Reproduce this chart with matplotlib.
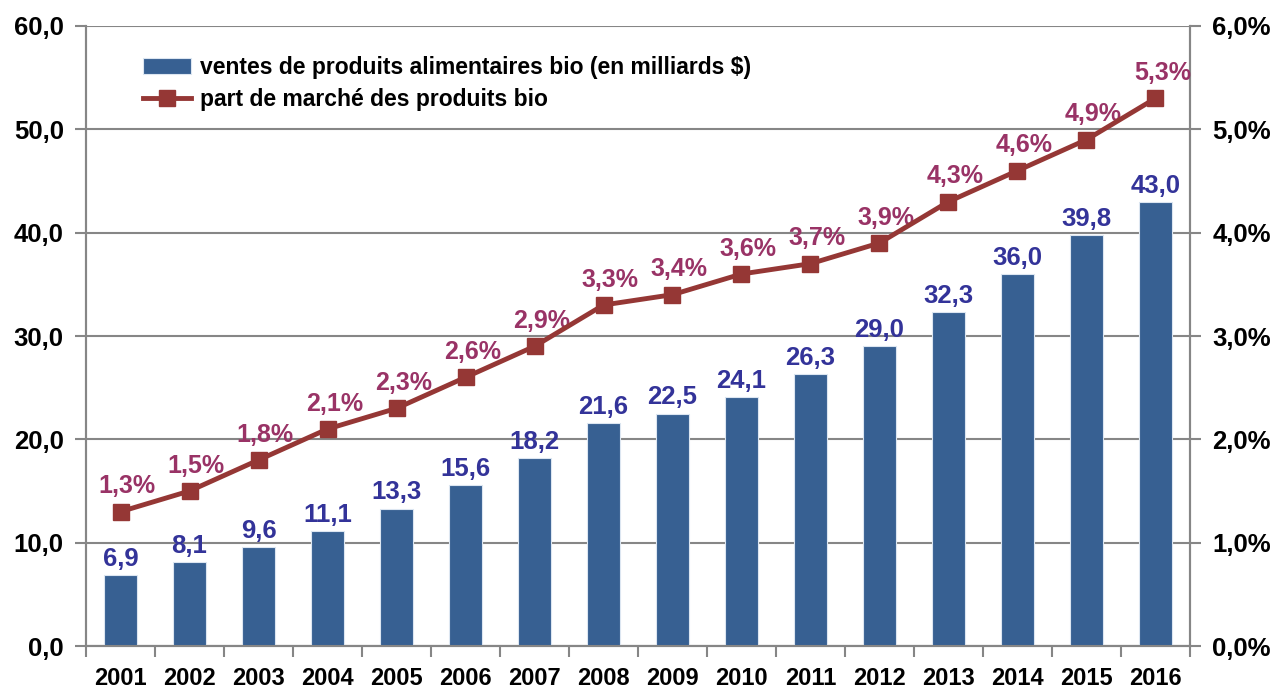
import matplotlib.pyplot as plt
import numpy as np

years = ["2001", "2002", "2003", "2004", "2005", "2006", "2007", "2008",
         "2009", "2010", "2011", "2012", "2013", "2014", "2015", "2016"]
ventes = [6.9, 8.1, 9.6, 11.1, 13.3, 15.6, 18.2, 21.6,
          22.5, 24.1, 26.3, 29.0, 32.3, 36.0, 39.8, 43.0]
part = [1.3, 1.5, 1.8, 2.1, 2.3, 2.6, 2.9, 3.3,
        3.4, 3.6, 3.7, 3.9, 4.3, 4.6, 4.9, 5.3]

plt.rcParams['font.family'] = ['Liberation Sans', 'DejaVu Sans']
plt.rcParams['font.weight'] = 'bold'

fig = plt.figure(figsize=(12.76, 6.93), dpi=100)
ax = fig.add_axes([0.0674, 0.0678, 0.8652, 0.8947])
ax2 = ax.twinx()

x = np.arange(len(years))
bars = ax.bar(x, ventes, width=0.49, color="#376092", edgecolor="#dce6f1",
              linewidth=0.8, zorder=3, label="ventes de produits alimentaires bio (en milliards $)")
for xi, v in zip(x, ventes):
    ax.text(xi, v + 0.4, f"{v:.1f}".replace(".", ","), ha="center", va="bottom",
            color="#333399", fontsize=18.5, fontweight="bold")

line, = ax2.plot(x, part, color="#953735", linewidth=3.5, marker="s",
                 markersize=11, zorder=4, label="part de marché des produits bio")
for xi, p in zip(x, part):
    ax2.text(xi + 0.1, p + 0.13, f"{p:.1f}%".replace(".", ","), ha="center", va="bottom",
             color="#993366", fontsize=18, fontweight="bold")

ax.set_xlim(-0.5, len(years) - 0.5)
ax.set_ylim(0, 60)
ax2.set_ylim(0, 6)
ax.set_yticks(np.arange(0, 61, 10))
ax.set_yticklabels([f"{t:.1f}".replace(".", ",") for t in np.arange(0, 61, 10)])
ax2.set_yticks(np.arange(0, 6.1, 1))
ax2.set_yticklabels([f"{t:.1f}%".replace(".", ",") for t in np.arange(0, 6.1, 1)])
ax.set_xticks(np.arange(-0.5, len(years), 1), minor=False)
ax.set_xticklabels([])
ax.set_xticks(x, minor=True)
ax.set_xticklabels(years, minor=True)
ax.tick_params(axis="x", which="major", length=8, color="#868686", width=1.5)
ax.tick_params(axis="x", which="minor", length=0, labelsize=17, pad=15)
ax.tick_params(axis="y", length=8, color="#868686", width=1.5, labelsize=18.5, pad=8)
ax2.tick_params(axis="y", length=8, color="#868686", width=1.5, labelsize=18.5, pad=8)
for lab in ax.get_xticklabels(minor=True) + ax.get_yticklabels() + ax2.get_yticklabels():
    lab.set_fontweight("bold")

ax.grid(axis="y", color="#868686", linewidth=1.5, zorder=0)
ax.set_axisbelow(True)
for a in (ax, ax2):
    a.spines["top"].set_visible(False)
    for s in ("left", "right", "bottom"):
        a.spines[s].set_color("#868686")
        a.spines[s].set_linewidth(1.5)

ax2.legend([bars, line], [bars.get_label(), line.get_label()], loc="upper left",
           bbox_to_anchor=(0.033, 0.985), frameon=False, handlelength=2.1,
           handletextpad=0.4, labelspacing=0.4, prop={"weight": "bold", "size": 16.5})

fig.savefig("out.png", dpi=100)
